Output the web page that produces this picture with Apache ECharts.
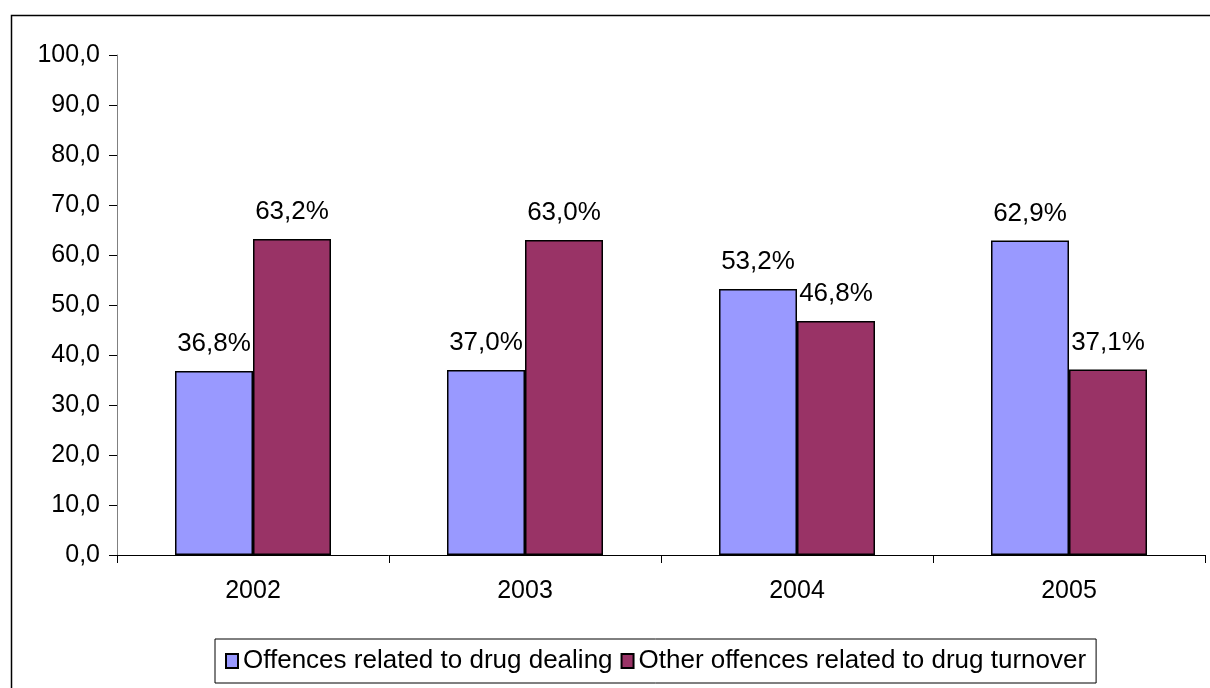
<!DOCTYPE html>
<html>

<head>
    <meta charset="utf-8">
    <title>Drug offences 2002-2005</title>
    <script src="https://cdn.jsdelivr.net/npm/echarts@6/dist/echarts.min.js"></script>
    <style>
        html, body {
            margin: 0;
            padding: 0;
            background: #fff;
        }

        .chart {
            width: 1210px;
            height: 688px;
        }
    </style>
</head>

<body>

    <div id="main" class="chart"></div>

    <script type="text/javascript">

        var years = ['2002', '2003', '2004', '2005'];
        var dealing = [36.8, 37.0, 53.2, 62.9];
        var turnover = [63.2, 63.0, 46.8, 37.1];
        var seriesNames = ['Offences related to drug dealing', 'Other offences related to drug turnover'];

        var fontFamily = '"Liberation Sans", Arial, sans-serif';

        function comma(v) {
            return Number(v).toFixed(1).replace('.', ',');
        }

        var myChart = echarts.init(document.getElementById('main'));

        var barLabel = {
            show: true,
            position: 'top',
            distance: 14,
            color: '#000',
            fontSize: 26,
            fontFamily: fontFamily,
            formatter: function (p) {
                return comma(p.value) + '%';
            }
        };

        var option = {
            animation: false,
            backgroundColor: '#fff',
            graphic: [{
                type: 'rect',
                left: 9,
                top: 13,
                shape: { width: 1400, height: 900 },
                style: { fill: 'none', stroke: '#000', lineWidth: 1.5 },
                silent: true
            }],
            legend: {
                data: seriesNames,
                left: 215,
                top: 639,
                padding: [9, 10, 9, 10],
                borderColor: '#000',
                borderWidth: 1,
                itemGap: 8,
                itemWidth: 12,
                itemHeight: 14,
                icon: 'rect',
                textStyle: {
                    color: '#000',
                    fontSize: 26,
                    fontFamily: fontFamily
                }
            },
            grid: {
                left: 117,
                right: 5,
                top: 55,
                bottom: 133
            },
            xAxis: {
                type: 'category',
                data: years,
                axisLine: { lineStyle: { color: '#000', width: 1 } },
                axisTick: { show: true, length: 8, lineStyle: { color: '#000' } },
                axisLabel: {
                    margin: 24,
                    color: '#000',
                    fontSize: 25,
                    fontFamily: fontFamily
                }
            },
            yAxis: {
                type: 'value',
                min: 0,
                max: 100,
                interval: 10,
                splitLine: { show: false },
                axisLine: { show: true, lineStyle: { color: '#808080', width: 1 } },
                axisTick: { show: true, length: 8, lineStyle: { color: '#000' } },
                axisLabel: {
                    margin: 17,
                    color: '#000',
                    fontSize: 25,
                    fontFamily: fontFamily,
                    formatter: function (v) { return comma(v); }
                }
            },
            series: [{
                name: seriesNames[0],
                type: 'bar',
                data: dealing,
                barWidth: 78,
                barGap: '0%',
                itemStyle: { color: '#9999FF', borderColor: '#000', borderWidth: 1.5 },
                label: barLabel
            }, {
                name: seriesNames[1],
                type: 'bar',
                data: turnover,
                barWidth: 78,
                barGap: '0%',
                itemStyle: { color: '#993366', borderColor: '#000', borderWidth: 1.5 },
                label: barLabel
            }]
        };

        myChart.setOption(option);

    </script>
</body>

</html>
